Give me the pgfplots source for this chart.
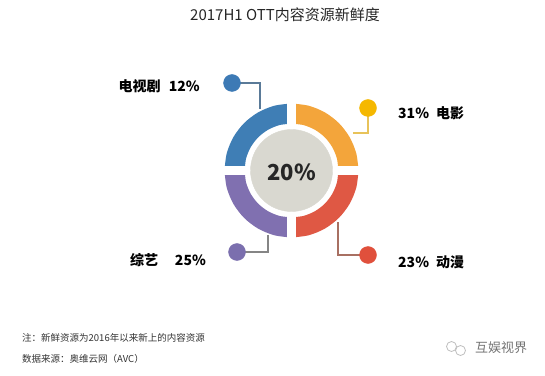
\documentclass[border=0pt]{standalone}
\usepackage{fontspec}
\setmainfont{Noto Sans CJK SC}
\usepackage{pgfplots}
\pgfplotsset{compat=1.18}
\definecolor{cBlue}{HTML}{3F7EB5}
\definecolor{cOrange}{HTML}{F3A53B}
\definecolor{cRed}{HTML}{DF5844}
\definecolor{cPurple}{HTML}{8070B0}
\definecolor{cGray}{HTML}{D9D8D0}
\definecolor{lBlue}{HTML}{5A7A98}
\definecolor{lGold}{HTML}{E8C35A}
\definecolor{lGray}{HTML}{858585}
\definecolor{lBrown}{HTML}{A87062}
\definecolor{dYellow}{HTML}{F5B800}
\definecolor{dRed}{HTML}{E0503C}
\definecolor{dBlue}{HTML}{3D7AB5}
\definecolor{dPurple}{HTML}{7B6FAE}
\begin{document}
\begin{tikzpicture}
\begin{axis}[
  scale only axis, width=545pt, height=375pt,
  xmin=-291.5, xmax=253.5, ymin=-204.5, ymax=170.5,
  hide axis, clip=false,
]
\path (axis cs:-291.5,-204.5) rectangle (axis cs:253.5,170.5);
% ring segments (four equal quarters)
\addplot[cOrange, line width=20pt, smooth, line cap=butt] coordinates {(57,0)(55.06,14.75)(49.36,28.5)(40.31,40.31)(28.5,49.36)(14.75,55.06)(0,57)};
\addplot[cBlue, line width=20pt, smooth, line cap=butt] coordinates {(0,57)(-14.75,55.06)(-28.5,49.36)(-40.31,40.31)(-49.36,28.5)(-55.06,14.75)(-57,0)};
\addplot[cPurple, line width=20pt, smooth, line cap=butt] coordinates {(-57,0)(-55.06,-14.75)(-49.36,-28.5)(-40.31,-40.31)(-28.5,-49.36)(-14.75,-55.06)(0,-57)};
\addplot[cRed, line width=20pt, smooth, line cap=butt] coordinates {(0,-57)(14.75,-55.06)(28.5,-49.36)(40.31,-40.31)(49.36,-28.5)(55.06,-14.75)(57,0)};
% white cross gaps
\addplot[white, line width=9pt] coordinates {(-72,0)(72,0)};
\addplot[white, line width=9pt] coordinates {(0,-72)(0,72)};
% center disc with value
\addplot[cGray, only marks, mark=*, mark size=41pt, mark options={fill=cGray, draw=cGray},
  nodes near coords={20\%}, nodes near coords align={center},
  every node near coord/.append style={font=\bfseries\fontsize{22}{22}\selectfont, text=black!85, yshift=-1.5pt}] coordinates {(0,0)};
% leader lines
\addplot[lBlue, line width=1.8pt] coordinates {(-59.5,87.5)(-31.5,87.5)(-31.5,61)};
\addplot[lGold, line width=1.8pt] coordinates {(76.5,62.5)(76.5,37.5)(61.5,37.5)};
\addplot[lGray, line width=1.8pt] coordinates {(-54.5,-81.5)(-23.5,-81.5)(-23.5,-64.5)};
\addplot[lBrown, line width=1.8pt] coordinates {(76.5,-84.5)(46.5,-84.5)(46.5,-51.5)};
\addplot[dBlue, only marks, mark=*, mark size=8.5pt, mark options={fill=dBlue, draw=dBlue}] coordinates {(-59.5,87.5)};
\addplot[dYellow, only marks, mark=*, mark size=8.5pt, mark options={fill=dYellow, draw=dYellow}] coordinates {(76.5,62.5)};
\addplot[dPurple, only marks, mark=*, mark size=8.5pt, mark options={fill=dPurple, draw=dPurple}] coordinates {(-54.5,-81.5)};
\addplot[dRed, only marks, mark=*, mark size=8.5pt, mark options={fill=dRed, draw=dRed}] coordinates {(76.5,-84.5)};
% labels
\node[anchor=east, inner sep=0pt, font=\bfseries\fontsize{14}{14}\selectfont] at (axis cs:-91.5,83.8) {电视剧\hspace{0.6em}12\%};
\node[anchor=west, inner sep=0pt, font=\bfseries\fontsize{14}{14}\selectfont] at (axis cs:106.5,57.2) {31\%\hspace{0.5em}电影};
\node[anchor=west, inner sep=0pt, font=\bfseries\fontsize{14}{14}\selectfont] at (axis cs:-161.5,-89.5) {综艺\hspace{1.2em}25\%};
\node[anchor=west, inner sep=0pt, font=\bfseries\fontsize{14}{14}\selectfont] at (axis cs:106.5,-92.2) {23\%\hspace{0.5em}动漫};
% title
\node[font=\fontsize{15}{15}\selectfont, text=black!85] at (axis cs:-6.5,155.5) {2017H1 OTT内容资源新鲜度};
% notes
\node[anchor=west, inner sep=0pt, font=\fontsize{9.5}{9.5}\selectfont, text=black!80] at (axis cs:-269.5,-167.5) {注：新鲜资源为2016年以来新上的内容资源};
\node[anchor=west, inner sep=0pt, font=\fontsize{9.5}{9.5}\selectfont, text=black!80] at (axis cs:-269.5,-188.5) {数据来源：奥维云网（AVC）};
% watermark
\addplot[black!25, only marks, mark=o, mark size=5pt, mark options={draw=black!25, line width=0.8pt}] coordinates {(160,-176)(169,-180)};
\node[anchor=west, inner sep=0pt, font=\fontsize{13}{13}\selectfont, text=black!55] at (axis cs:183.5,-177.5) {互娱视界};
\end{axis}
\end{tikzpicture}
\end{document}
